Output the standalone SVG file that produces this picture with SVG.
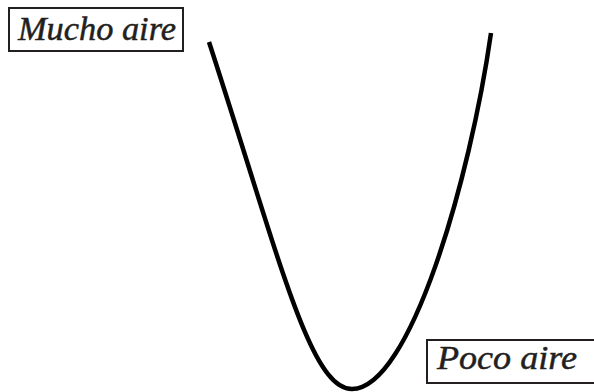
<svg xmlns="http://www.w3.org/2000/svg" width="594" height="392" viewBox="0 0 594 392">
<style>
.box{fill:#fff;stroke:#231f20;stroke-width:2}
.lbl{font-style:italic;font-size:34px;fill:#231f20;stroke:#231f20;stroke-width:0.5}
.curve{fill:none;stroke:#000;stroke-width:4.5;stroke-linecap:butt}
</style>
<rect width="594" height="392" fill="#fff"/>
<g id="connectors">
<path class="curve" d="M209,42 C280,260 310,389 352,389 C410,389 470,180 491,33"/>
</g>
<g id="mucho">
<rect class="box" x="9" y="8" width="174" height="43"/>
<text class="lbl" font-family="'Liberation Serif', 'DejaVu Serif', serif" x="18" y="40" textLength="158" lengthAdjust="spacingAndGlyphs">Mucho aire</text>
</g>
<g id="poco">
<rect class="box" x="427" y="340" width="180" height="43"/>
<text class="lbl" font-family="'Liberation Serif', 'DejaVu Serif', serif" x="437" y="369" textLength="140" lengthAdjust="spacingAndGlyphs">Poco aire</text>
</g>
</svg>
